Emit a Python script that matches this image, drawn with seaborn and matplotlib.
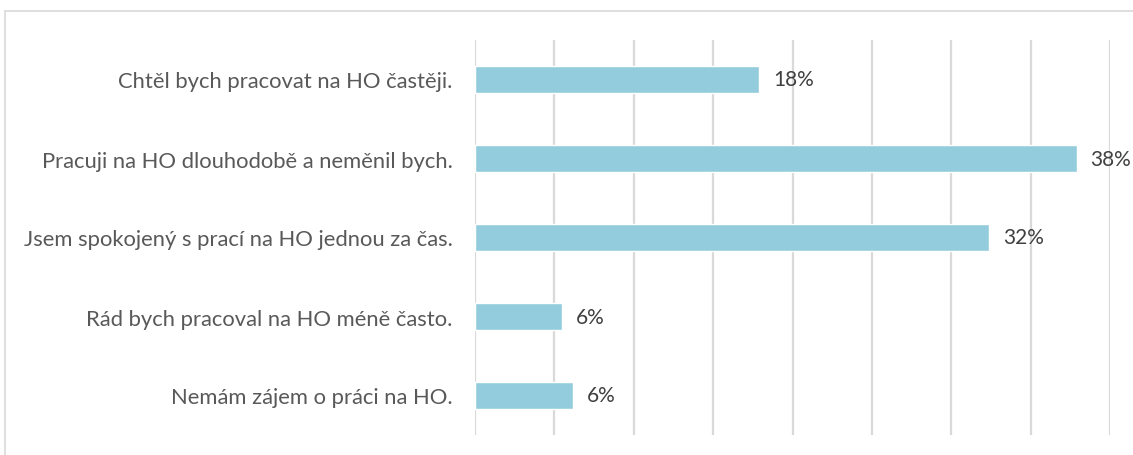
import matplotlib
matplotlib.use("Agg")
import matplotlib.pyplot as plt
import seaborn as sns
import pandas as pd
from matplotlib.patches import Rectangle

# data
odpovedi = [
    "Chtěl bych pracovat na HO častěji.",
    "Pracuji na HO dlouhodobě a neměnil bych.",
    "Jsem spokojený s prací na HO jednou za čas.",
    "Rád bych pracoval na HO méně často.",
    "Nemám zájem o práci na HO.",
]
podily = [0.179, 0.379, 0.324, 0.055, 0.062]

df = pd.DataFrame({"odpoved": odpovedi, "podil": podily})

sns.set_theme(style="white")
plt.rcParams["font.family"] = ["Lato", "DejaVu Sans"]

fig = plt.figure(figsize=(11.33, 4.56), dpi=100)
ax = fig.add_axes([475 / 1133, 20 / 456, 635 / 1133, 395 / 456])

sns.barplot(data=df, y="odpoved", x="podil", color="#93CDDD",
            width=0.34, saturation=1, ax=ax, orient="h")

ax.set_xlim(0, 0.40)
ax.set_xticks([i * 0.05 for i in range(9)])
ax.set_xticklabels([])
ax.grid(axis="x", color="#d9d9d9", linewidth=1.6)
ax.set_axisbelow(True)
for s in ax.spines.values():
    s.set_visible(False)
ax.tick_params(axis="both", length=0)
ax.tick_params(axis="y", pad=16, labelsize=15.8, labelcolor="#595959")
ax.set_xlabel("")
ax.set_ylabel("")

# popisky hodnot
for i, v in enumerate(podily):
    ax.annotate(f"{v * 100:.0f}%", (v, i), xytext=(10, 0), textcoords="offset points",
                va="center", ha="left", fontsize=15, color="#404040")

# rámeček grafu
fig.patches.append(Rectangle((5 / 1133, -0.2), 1.2, 1.2 - 12 / 456,
                             transform=fig.transFigure, fill=False,
                             edgecolor="#d9d9d9", linewidth=1.2))

fig.savefig("out.png", dpi=100)
